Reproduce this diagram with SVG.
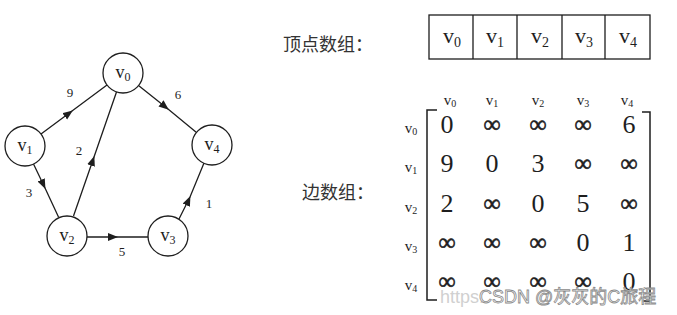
<svg xmlns="http://www.w3.org/2000/svg" width="677" height="315" viewBox="0 0 677 315">
<style>
.ln{fill:none;stroke:#1e1e1e;stroke-width:1.3}
.nd{fill:#fff;stroke:#1e1e1e;stroke-width:1.3}
.nl{font-family:"Liberation Serif",serif;font-size:18px;fill:#1e1e1e;text-anchor:middle}
.el{font-family:"Liberation Serif",serif;font-size:13px;fill:#1e1e1e;text-anchor:middle}
.cj{font-family:"Noto Sans CJK SC",sans-serif;font-size:18px;fill:#333}
.cl{font-family:"Liberation Serif",serif;font-size:22px;fill:#1e1e1e;text-anchor:middle}
.hd{font-family:"Liberation Serif",serif;font-size:15px;fill:#1e1e1e;text-anchor:middle}
.mv{font-family:"Liberation Serif",serif;font-size:26px;fill:#1e1e1e;text-anchor:middle}
.inf{font-size:24px;stroke:#1e1e1e;stroke-width:0.6}
.wm{font-family:"Liberation Sans","Noto Sans CJK SC",sans-serif;font-size:18px}
</style>
<defs>
<marker id="ar" markerWidth="12" markerHeight="10" refX="9" refY="4" orient="auto" markerUnits="userSpaceOnUse">
<path d="M0,0 L10,4 L0,8 Z" fill="#1e1e1e"/>
</marker>
</defs>
<rect width="677" height="315" fill="#fff"/>
<g id="connectors">
<polyline class="ln" points="41,134 72,111 107,85" marker-mid="url(#ar)"/>
<polyline class="ln" points="138.5,85.6 168,109 196.5,132.4" marker-mid="url(#ar)"/>
<polyline class="ln" points="73.5,216 94,157 116.5,92" marker-mid="url(#ar)"/>
<polyline class="ln" points="33.5,164 45,188 58.5,217" marker-mid="url(#ar)"/>
<polyline class="ln" points="87,237 117,237 148,237" marker-mid="url(#ar)"/>
<polyline class="ln" points="179,219 190,197 204,163" marker-mid="url(#ar)"/>
<text class="el" x="70" y="97">9</text>
<text class="el" x="178" y="99">6</text>
<text class="el" x="79" y="155">2</text>
<text class="el" x="29" y="197">3</text>
<text class="el" x="122" y="256">5</text>
<text class="el" x="209" y="208">1</text>
</g>
<g id="v0"><circle class="nd" cx="123" cy="73" r="20"/><text class="nl" x="123" y="78">v<tspan font-size="12" dy="3">0</tspan></text></g>
<g id="v1"><circle class="nd" cx="25" cy="146" r="20"/><text class="nl" x="25" y="151">v<tspan font-size="12" dy="3">1</tspan></text></g>
<g id="v2"><circle class="nd" cx="67" cy="236" r="20"/><text class="nl" x="67" y="241">v<tspan font-size="12" dy="3">2</tspan></text></g>
<g id="v3"><circle class="nd" cx="168" cy="236" r="20"/><text class="nl" x="168" y="241">v<tspan font-size="12" dy="3">3</tspan></text></g>
<g id="v4"><circle class="nd" cx="212" cy="145" r="20"/><text class="nl" x="212" y="150">v<tspan font-size="12" dy="3">4</tspan></text></g>

<g id="vertex-array">
<text class="cj" x="283" y="51">顶点数组：</text>
<rect x="429" y="15" width="221" height="44" fill="none" stroke="#1e1e1e" stroke-width="1.3"/>
<path d="M473,15V59M517,15V59M562,15V59M605,15V59" stroke="#1e1e1e" stroke-width="1.3"/>
<text class="cl" x="452" y="43">v<tspan font-size="14" dy="4">0</tspan></text>
<text class="cl" x="495" y="43">v<tspan font-size="14" dy="4">1</tspan></text>
<text class="cl" x="540" y="43">v<tspan font-size="14" dy="4">2</tspan></text>
<text class="cl" x="584" y="43">v<tspan font-size="14" dy="4">3</tspan></text>
<text class="cl" x="628" y="43">v<tspan font-size="14" dy="4">4</tspan></text>
</g>

<g id="edge-matrix">
<text class="cj" x="302" y="199">边数组：</text>
<path d="M437,110H427V300H437" fill="none" stroke="#1e1e1e" stroke-width="1.5"/>
<path d="M642,112H650V301H642" fill="none" stroke="#1e1e1e" stroke-width="1.5"/>
<g class="hd">
<text x="450" y="105">v<tspan font-size="10" dy="2">0</tspan></text>
<text x="492" y="105">v<tspan font-size="10" dy="2">1</tspan></text>
<text x="538" y="105">v<tspan font-size="10" dy="2">2</tspan></text>
<text x="583" y="105">v<tspan font-size="10" dy="2">3</tspan></text>
<text x="627" y="105">v<tspan font-size="10" dy="2">4</tspan></text>
<text x="411" y="133">v<tspan font-size="10" dy="2">0</tspan></text>
<text x="411" y="172">v<tspan font-size="10" dy="2">1</tspan></text>
<text x="411" y="212">v<tspan font-size="10" dy="2">2</tspan></text>
<text x="411" y="251">v<tspan font-size="10" dy="2">3</tspan></text>
<text x="411" y="290">v<tspan font-size="10" dy="2">4</tspan></text>
</g>
<g class="mv">
<text x="447" y="133">0</text><text class="inf" x="492" y="132">∞</text><text class="inf" x="538" y="132">∞</text><text class="inf" x="583" y="132">∞</text><text x="629" y="133">6</text>
<text x="447" y="172">9</text><text x="492" y="172">0</text><text x="538" y="172">3</text><text class="inf" x="583" y="171">∞</text><text class="inf" x="629" y="171">∞</text>
<text x="447" y="212">2</text><text class="inf" x="492" y="211">∞</text><text x="538" y="212">0</text><text x="583" y="212">5</text><text class="inf" x="629" y="211">∞</text>
<text class="inf" x="447" y="250">∞</text><text class="inf" x="492" y="250">∞</text><text class="inf" x="538" y="250">∞</text><text x="583" y="251">0</text><text x="629" y="251">1</text>
<text class="inf" x="447" y="289">∞</text><text class="inf" x="492" y="289">∞</text><text class="inf" x="538" y="289">∞</text><text class="inf" x="583" y="289">∞</text><text x="629" y="290">0</text>
</g>
</g>

<g id="watermark">
<text class="wm" x="440" y="303" fill="#d0d0d0">https:</text>
<text class="wm" x="479" y="303" fill="#ffffff" stroke="#8a8a8a" stroke-width="0.8">CSDN @灰灰的C旅程</text>
</g>
</svg>
